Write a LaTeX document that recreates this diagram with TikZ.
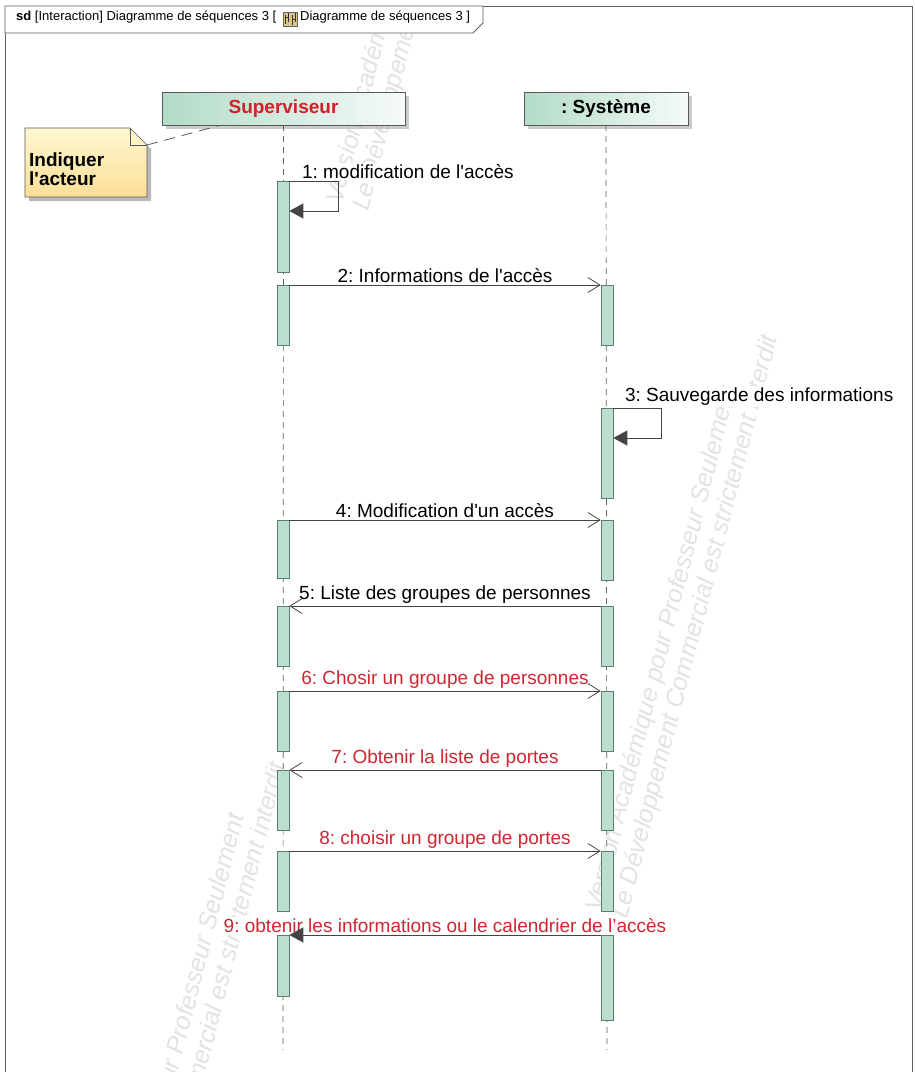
\documentclass[tikz,border=0pt]{standalone}
\usepackage{fontspec}
\setmainfont{Liberation Sans}[Ligatures=TeXOff]
\usetikzlibrary{positioning,arrows.meta,shadows,calc}
\frenchspacing

\definecolor{actfill}{RGB}{188,222,206}
\definecolor{actline}{RGB}{88,128,108}
\definecolor{boxleft}{RGB}{178,219,199}
\definecolor{boxright}{RGB}{246,251,248}
\definecolor{supred}{RGB}{214,30,42}
\definecolor{msgred}{RGB}{208,38,50}
\definecolor{notetop}{RGB}{255,248,210}
\definecolor{notebot}{RGB}{250,222,150}
\definecolor{wire}{RGB}{68,68,68}
\definecolor{icontan}{RGB}{214,196,140}

\tikzset{
  frame/.style={draw=gray!75!black, line width=.8pt},
  lifebox/.style={draw=gray!70!black, left color=boxleft, right color=boxright,
    minimum height=33pt, inner sep=0pt, font=\fontsize{19}{19}\selectfont\bfseries,
    drop shadow={shadow xshift=4pt, shadow yshift=-4pt, fill=gray!80, opacity=.5}},
  lifeline/.style={draw=gray!75!black, line width=.7pt, dash pattern=on 6pt off 5pt},
  act/.style={draw=actline, fill=actfill, line width=.7pt, minimum width=12pt,
    inner sep=0pt, anchor=north},
  msg/.style={draw=wire, line width=.8pt, -{Straight Barb[length=12pt,width=15pt]}},
  syncmsg/.style={draw=wire, line width=.8pt, -{Triangle[length=14pt,width=15pt]}},
  msglabel/.style={font=\fontsize{19}{19}\selectfont, fill=white, inner sep=1.5pt},
  notelink/.style={draw=gray!70!black, line width=.8pt, dash pattern=on 11pt off 7pt},
  wmark/.style={text=gray!22, font=\fontsize{25}{25}\selectfont\itshape, rotate=75.5,
    inner sep=0pt, anchor=base west},
}

\begin{document}
\begin{tikzpicture}[x=1pt,y=-1pt]
  \useasboundingbox (0,0) rectangle (915,1072);
  \fill[white] (0,0) rectangle (915,1072);

  % watermarks
  \begin{scope}
    \clip (5,6) rectangle (912,1072);
    \node[wmark] (wm1a) at (342,205) {Version Académique pour Professeur Seulement};
    \node[wmark] (wm1b) at (368,212) {Le Développement Commercial est strictement interdit};
    \node[wmark] (wm2a) at (601,913) {Version Académique pour Professeur Seulement};
    \node[wmark] (wm2b) at (627,920) {Le Développement Commercial est strictement interdit};
    \node[wmark] (wm3a) at (109,1340) {Version Académique pour Professeur Seulement};
    \node[wmark] (wm3b) at (135,1347) {Le Développement Commercial est strictement interdit};
  \end{scope}

  % frame and header tab
  \draw[frame] (5,6) rectangle (912,1080);
  \draw[frame, fill=white] (5,6) -- (483,6) -- (483,23) -- (473,33) -- (5,33) -- cycle;
  \node[anchor=base west, inner sep=0pt, font=\fontsize{13}{13}\selectfont] (hdrA) at (16,20)
    {\textbf{sd} [Interaction] Diagramme de séquences 3 [};
  \node[draw=gray!80!black, fill=icontan, minimum width=14pt, minimum height=14pt,
    inner sep=0pt] (icon) at (290,19) {};
  \draw[gray!40!black, line width=.6pt] (285,15) -- (285,24) (288,13) -- (288,22)
    (292,15) -- (292,25) (295,13) -- (295,22) (285,17) -- (288,17) (292,19) -- (295,19);
  \node[anchor=base west, inner sep=0pt, font=\fontsize{13}{13}\selectfont] (hdrB) at (300,20)
    {Diagramme de séquences 3 ]};

  % lifelines
  \node[lifebox, minimum width=243pt, text=supred] (sup) at (283.5,108.5) {Superviseur};
  \node[lifebox, minimum width=164pt] (sys) at (606,108.5) {: Système};
  \coordinate (supend) at (283,1050);
  \coordinate (sysend) at (607,1050);
  \draw[lifeline] (sup.south) -- (supend);
  \draw[lifeline] (sys.south) -- (sysend);

  % note
  \fill[gray!55] (29,132) -- (134,132) -- (151,149) -- (151,201) -- (29,201) -- cycle;
  \path[draw=gray!70!black, line width=.6pt, top color=notetop, bottom color=notebot]
    (25,128) -- (130,128) -- (147,145) -- (147,197) -- (25,197) -- cycle;
  \draw[gray!70!black, line width=.6pt] (130,128) |- (147,145);
  \coordinate (notefold) at (147,145);
  \node[anchor=north west, align=left, inner sep=0pt, font=\fontsize{19}{19}\selectfont\bfseries]
    (note) at (29,153) {Indiquer\\l'acteur};
  \draw[notelink] (notefold) -- ([xshift=-63pt]sup.south);

  % activations
  \node[act, minimum height=91pt] (a1) at (283,181) {};
  \node[act, minimum height=60pt] (a2) at (283,285) {};
  \node[act, minimum height=58pt] (a3) at (283,520) {};
  \node[act, minimum height=60pt] (a4) at (283,606) {};
  \node[act, minimum height=60pt] (a5) at (283,691) {};
  \node[act, minimum height=60pt] (a6) at (283,770) {};
  \node[act, minimum height=60pt] (a7) at (283,851) {};
  \node[act, minimum height=61pt] (a8) at (283,935) {};
  \node[act, minimum height=60pt] (b1) at (607,285) {};
  \node[act, minimum height=90pt] (b2) at (607,408) {};
  \node[act, minimum height=60pt] (b3) at (607,520) {};
  \node[act, minimum height=60pt] (b4) at (607,606) {};
  \node[act, minimum height=60pt] (b5) at (607,691) {};
  \node[act, minimum height=60pt] (b6) at (607,770) {};
  \node[act, minimum height=60pt] (b7) at (607,851) {};
  \node[act, minimum height=85pt] (b8) at (607,935) {};

  % message labels (before the arrows, so the heads stay on top)
  \node[msglabel, anchor=south west] (m1) at ([xshift=11pt,yshift=1pt]a1.north east)
    {1: modification de l'accès};
  \path (a2.north east) -- node[msglabel, above=1pt] (m2) {2: Informations de l'accès} (b1.north west);
  \node[msglabel, anchor=south west] (m3) at ([xshift=10pt,yshift=1pt]b2.north east)
    {3: Sauvegarde des informations};
  \path (a3.north east) -- node[msglabel, above=1pt] (m4) {4: Modification d'un accès} (b3.north west);
  \path (b4.north west) -- node[msglabel, above=1pt] (m5) {5: Liste des groupes de personnes} (a4.north east);
  \path (a5.north east) -- node[msglabel, above=1pt, text=msgred] (m6) {6: Chosir un groupe de personnes} (b5.north west);
  \path (b6.north west) -- node[msglabel, above=1pt, text=msgred] (m7) {7: Obtenir la liste de portes} (a6.north east);
  \path (a7.north east) -- node[msglabel, above=1pt, text=msgred] (m8) {8: choisir un groupe de portes} (b7.north west);
  \path (b8.north west) -- node[msglabel, above=1pt, text=msgred] (m9)
    {9: obtenir les informations ou le calendrier de l’accès} (a8.north east);

  % messages
  \draw[syncmsg] (a1.north east) -- ++(49,0) -- ++(0,30) -- ++(-49,0);
  \draw[msg] (a2.north east) -- (b1.north west);
  \draw[syncmsg] (b2.north east) -- ++(48,0) -- ++(0,30) -- ++(-48,0);
  \draw[msg] (a3.north east) -- (b3.north west);
  \draw[msg] (b4.north west) -- (a4.north east);
  \draw[msg] (a5.north east) -- (b5.north west);
  \draw[msg] (b6.north west) -- (a6.north east);
  \draw[msg] (a7.north east) -- (b7.north west);
  \draw[syncmsg] (b8.north west) -- (a8.north east);
\end{tikzpicture}
\end{document}
